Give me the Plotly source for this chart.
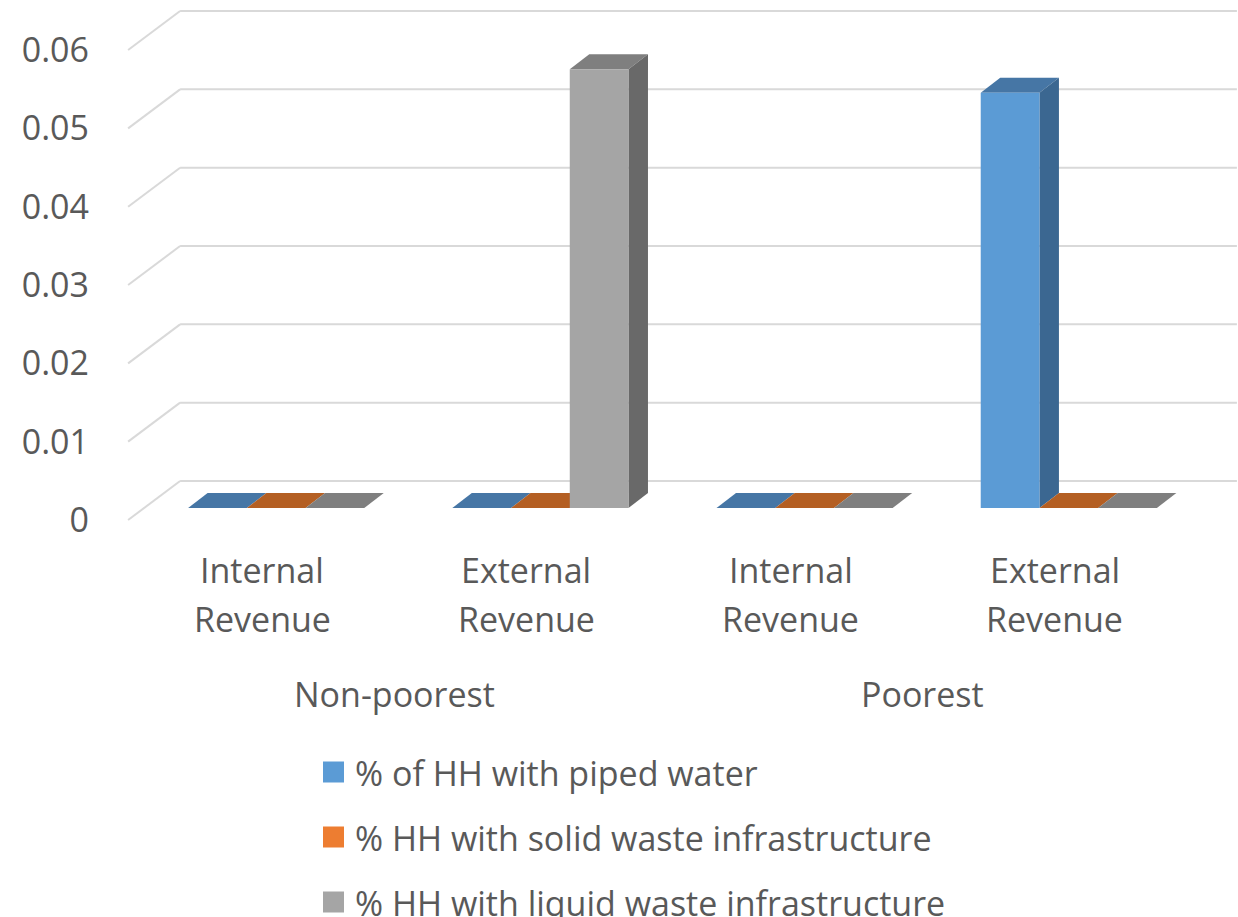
import plotly.graph_objects as go

# ---- data -------------------------------------------------------------
group_labels = ["Non-poorest", "Poorest"]
category_labels = ["Internal Revenue", "External Revenue",
                   "Internal Revenue", "External Revenue"]
series_names = ["% of HH with piped water",
                "% HH with solid waste infrastructure",
                "% HH with liquid waste infrastructure"]
piped_water = [0, 0, 0, 0.053]
solid_waste = [0, 0, 0, 0]
liquid_waste = [0, 0.056, 0, 0]
y_tick_values = [0, 0.01, 0.02, 0.03, 0.04, 0.05, 0.06]
y_tick_labels = ["0", "0.01", "0.02", "0.03", "0.04", "0.05", "0.06"]

# ---- styles -----------------------------------------------------------
front_colors = ["#5B9BD5", "#ED7D31", "#A5A5A5"]
top_colors = ["#4676A5", "#B45F23", "#7F7F7F"]
side_colors = ["#3B6791", "#A0521C", "#696969"]
text_color = "#595959"
grid_color = "#D9D9D9"
font_family = "Open Sans"
label_size = 34

W, H = 1238, 917
MARGIN_L = 100
PX_PER_X = 264.2          # pixels per category step
X0_PX = 276.2             # pixel of first category centre (bar front)
PX_PER_Y = 7833.0         # pixels per unit of value
Y0_PX = 508.0             # pixel of zero on the bar front plane
BARGAP = 1 / 3

# pseudo-3D offsets (pixels): bar depth, back wall, front edge
BAR_DEPTH = (19.5, 15.0)
BACK_WALL = (36.0, 27.0)
FRONT_EDGE = (-16.0, -12.0)


def dx(px):
    return px / PX_PER_X


def dy(px):
    return px / PX_PER_Y


x_pos = list(range(len(category_labels)))
series_values = [piped_water, solid_waste, liquid_waste]

fig = go.Figure()
for name, vals, col in zip(series_names, series_values, front_colors):
    fig.add_trace(go.Bar(x=x_pos, y=vals, name=name, marker_color=col,
                         marker_line_width=0, showlegend=False,
                         hoverinfo="skip"))

shapes = []
# back wall gridlines and left side-wall lines
n_cat = len(category_labels)
for v in y_tick_values:
    shapes.append(dict(type="line", xref="x", yref="y", layer="below",
                       x0=-0.5 + dx(BACK_WALL[0]), x1=n_cat - 0.5 + dx(BACK_WALL[0]),
                       y0=v + dy(BACK_WALL[1]), y1=v + dy(BACK_WALL[1]),
                       line=dict(color=grid_color, width=2)))
    shapes.append(dict(type="line", xref="x", yref="y", layer="below",
                       x0=-0.5 + dx(FRONT_EDGE[0]), x1=-0.5 + dx(BACK_WALL[0]),
                       y0=v + dy(FRONT_EDGE[1]), y1=v + dy(BACK_WALL[1]),
                       line=dict(color=grid_color, width=2)))

# top and side faces of every bar
bw = (1 - BARGAP) / len(series_names)
ddx, ddy = dx(BAR_DEPTH[0]), dy(BAR_DEPTH[1])
for k, vals in enumerate(series_values):
    for xi, v in zip(x_pos, vals):
        xl = xi + (k - 1.5) * bw
        xr = xi + (k - 0.5) * bw
        top = (f"M{xl},{v} L{xr},{v} L{xr + ddx},{v + ddy} "
               f"L{xl + ddx},{v + ddy} Z")
        shapes.append(dict(type="path", xref="x", yref="y", layer="below",
                           path=top, fillcolor=top_colors[k],
                           line=dict(width=0)))
        if v > 0:
            side = (f"M{xr},0 L{xr},{v} L{xr + ddx},{v + ddy} "
                    f"L{xr + ddx},{ddy} Z")
            shapes.append(dict(type="path", xref="x", yref="y", layer="below",
                               path=side, fillcolor=side_colors[k],
                               line=dict(width=0)))


def paper_x(px):
    return (px - MARGIN_L) / (W - MARGIN_L)


def paper_y(py):
    return 1 - py / H


annotations = []
# category labels, one word per line
for xi, lab in zip(x_pos, category_labels):
    for line_no, word in enumerate(lab.split(" ")):
        annotations.append(dict(x=xi, xref="x", xshift=-14,
                                y=paper_y(570 + 49 * line_no), yref="paper",
                                text=word, showarrow=False,
                                xanchor="center", yanchor="middle",
                                font=dict(size=label_size, color=text_color,
                                          family=font_family)))
# group labels
for gi, g in enumerate(group_labels):
    annotations.append(dict(x=2 * gi + 0.5, xref="x", xshift=-14,
                            y=paper_y(694), yref="paper", text=g,
                            showarrow=False, xanchor="center",
                            yanchor="middle",
                            font=dict(size=label_size, color=text_color,
                                      family=font_family)))

# legend
for i, (name, col) in enumerate(zip(series_names, front_colors)):
    cy = 772 + 65 * i
    shapes.append(dict(type="rect", xref="paper", yref="paper",
                       x0=paper_x(323), x1=paper_x(344),
                       y0=paper_y(cy - 10.5), y1=paper_y(cy + 10.5),
                       fillcolor=col, line=dict(width=0)))
    annotations.append(dict(x=paper_x(353), xref="paper", y=paper_y(cy + 1),
                            yref="paper", text=name, showarrow=False,
                            xanchor="left", yanchor="middle",
                            font=dict(size=label_size, color=text_color,
                                      family=font_family)))

fig.update_layout(
    width=W, height=H,
    margin=dict(l=MARGIN_L, r=0, t=0, b=0),
    paper_bgcolor="white", plot_bgcolor="white",
    barmode="group", bargap=BARGAP, bargroupgap=0,
    shapes=shapes, annotations=annotations,
    showlegend=False,
    font=dict(family=font_family, color=text_color),
    xaxis=dict(range=[(MARGIN_L - X0_PX) / PX_PER_X, (W - X0_PX) / PX_PER_X],
               showgrid=False, zeroline=False, showline=False,
               showticklabels=False, fixedrange=True),
    yaxis=dict(range=[-(H - Y0_PX) / PX_PER_Y, Y0_PX / PX_PER_Y],
               tickvals=y_tick_values, ticktext=y_tick_labels,
               ticks="", ticklabelshift=12, ticklabelstandoff=10,
               tickfont=dict(size=34, color=text_color, family=font_family),
               showgrid=False, zeroline=False, showline=False,
               fixedrange=True),
)

fig.write_html("out.html")
